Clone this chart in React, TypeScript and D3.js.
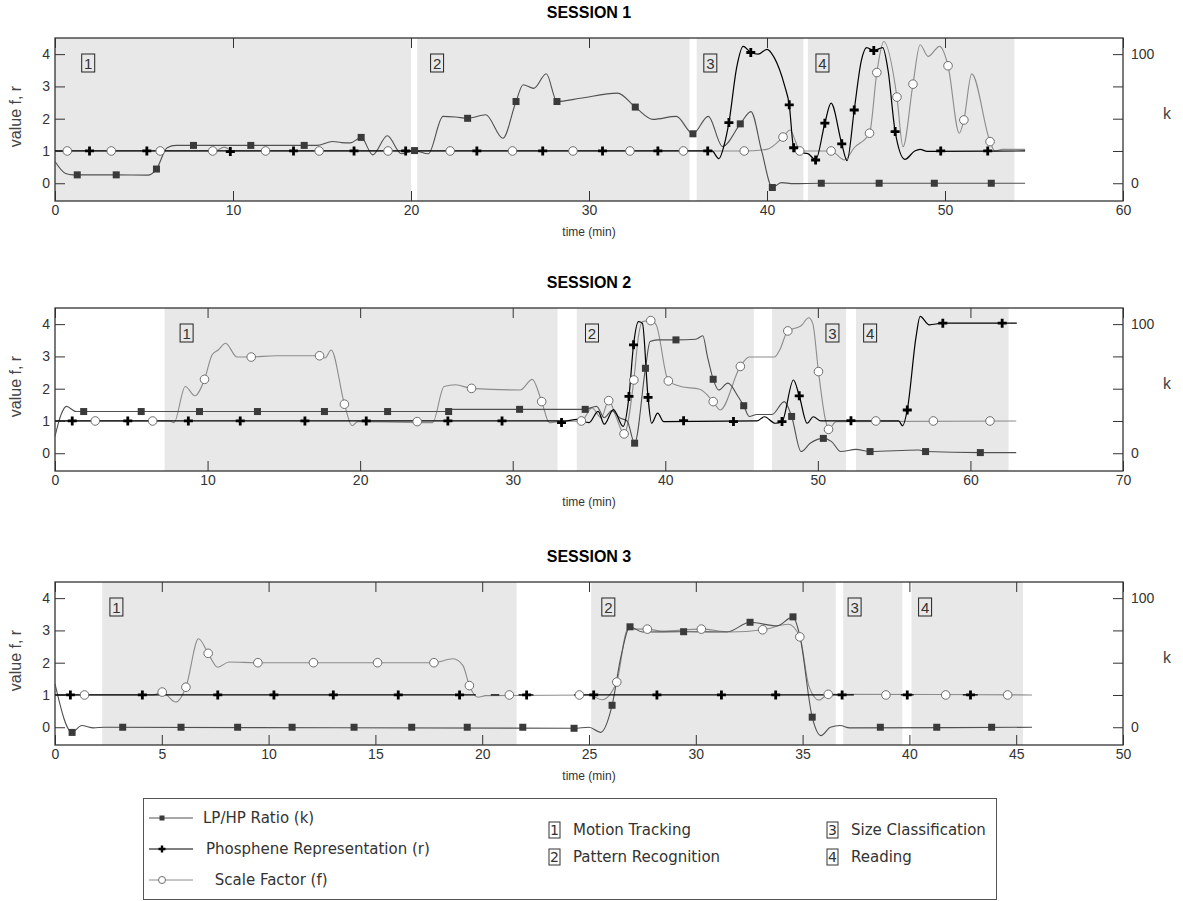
import React, { useRef, useEffect } from 'react';
import * as d3 from 'd3';

type P = [number, number | null];

// ---------- session 1 ----------
const s1Regions: [number, number][] = [[0, 20.0], [20.35, 35.65], [36.05, 42.05], [42.3, 53.9]];
const s1LabelAt = [1.5, 21.1, 36.45, 42.75];
const s1K: P[] = [
  [0, 16.8], [0.6, 7.5], [1.0, 6.5], [3.4, 6.5], [5.2, 6.3], [5.7, 11], [6.3, 27.5], [6.8, 29.3], [10, 29.3],
  [14.7, 29.3], [15.6, 32.3], [16.1, 31.5], [16.6, 31.3], [17.2, 35.5], [17.85, 22], [18.67, 36.8], [19.46, 22.8],
  [20.2, 25.3], [20.97, 22.8], [21.8, 51.8], [22.5, 51.3], [23.2, 50.3], [24.2, 53], [25.16, 34.8], [25.9, 63.3],
  [26.3, 76.3], [26.9, 73.5], [27.6, 84.8], [28.2, 63.3], [29.5, 65.8], [31.6, 69.8], [32.6, 59], [33.6, 49.5],
  [34.9, 51.8], [35.84, 38.3], [36.7, 51.8], [37.5, 28.5], [38.5, 46], [39.1, 55.5], [39.7, 25], [40.3, -3.3],
  [40.8, 0.5], [41.5, -0.3], [43, 0], [54.5, 0],
];
const s1KMarks: [number, number][] = [
  [1.25, 6.5], [3.44, 6.5], [5.7, 11], [7.78, 29.3], [11.0, 29.3], [14.0, 29.3], [17.2, 35.5], [20.2, 25.3],
  [23.18, 50.3], [25.9, 63.3], [28.2, 63.3], [32.6, 59], [35.84, 38.3], [38.5, 46], [40.3, -3.3], [43.05, 0],
  [46.3, 0], [49.4, 0], [52.6, 0],
];
const s1R: P[] = [
  [0, 1], [36.9, 1], [37.3, 0.76], [37.6, 1.2], [37.86, 1.88], [38.3, 3.6], [38.66, 4.24], [39.1, 4.05], [39.5, 4.0],
  [40.0, 4.15], [40.4, 3.9], [41.0, 3.0], [41.25, 2.43], [41.5, 1.1], [41.9, 0.95], [42.3, 0.92], [42.73, 0.72],
  [43.25, 1.86], [43.6, 2.48], [44.2, 1.22], [44.5, 0.7], [44.9, 2.27], [45.3, 3.8], [45.6, 4.2], [46.0, 4.11],
  [46.5, 4.2], [46.8, 3.5], [47.2, 1.6], [47.75, 0.74], [48.3, 1.0], [48.6, 1.05], [49, 0.99], [54.5, 1],
];
const s1RMarks: [number, number][] = [
  [1.94, 1], [5.16, 1], [9.85, 0.98], [13.4, 1], [16.8, 1], [19.7, 1], [23.7, 1], [27.4, 1], [30.76, 1], [33.87, 1],
  [36.67, 1], [37.86, 1.88], [39.09, 4.05], [41.25, 2.43], [41.5, 1.1], [42.73, 0.72], [43.25, 1.86], [44.2, 1.22],
  [44.9, 2.27], [46.0, 4.11], [47.2, 1.6], [49.76, 1], [52.4, 1],
];
const s1F: P[] = [
  [0, 1], [9.0, 1], [9.5, 1.12], [10.0, 1.0], [38.72, 1], [40.0, 1.05], [40.9, 1.43], [41.3, 1.65], [41.6, 1.3],
  [41.84, 1.0], [43.6, 1.0], [44.35, 0.72], [44.9, 1.1], [45.76, 1.55], [46.17, 3.43], [46.56, 4.39], [47.3, 2.67],
  [47.64, 1.13], [48.2, 3.07], [48.6, 4.29], [49.05, 3.93], [49.7, 4.24], [50.17, 3.64], [50.8, 1.55], [51.06, 1.96],
  [51.5, 3.39], [52.53, 1.29], [52.8, 1.0], [53.2, 1.05], [54.5, 1.05],
];
const s1FMarks: [number, number][] = [
  [0.69, 1], [3.16, 1], [5.91, 1], [8.86, 1], [11.83, 1], [14.84, 1], [18.71, 1], [22.2, 1], [25.7, 1], [29.1, 1],
  [32.3, 1], [35.3, 1], [38.72, 1], [40.9, 1.43], [41.84, 1.0], [43.6, 1.0], [45.76, 1.55], [46.17, 3.43],
  [47.3, 2.67], [48.2, 3.07], [50.17, 3.64], [51.06, 1.96], [52.53, 1.29],
];

// ---------- session 2 ----------
const s2Regions: [number, number][] = [[7.18, 32.94], [34.2, 45.8], [47.0, 51.85], [52.5, 62.5]];
const s2LabelAt = [8.2, 34.77, 50.53, 53.0];
const s2K: P[] = [
  [0, 13], [0.4, 30], [0.75, 36.3], [1.38, 32.3], [25.8, 32.3], [26.0, 34], [34.7, 34], [35.5, 36.3], [36.0, 27.5],
  [36.5, 33], [37.0, 27.5], [37.5, 25], [37.99, 7.8], [38.7, 65.8], [39.0, 86.5], [39.5, 87.8], [40.7, 87.8],
  [42.0, 88.3], [42.46, 91], [42.76, 75], [43.14, 57.3], [43.5, 49], [44.1, 54.3], [44.77, 44], [45.14, 36.8],
  [45.5, 28.5], [46.0, 30], [47.0, 30], [47.8, 40], [48.28, 28.5], [48.9, 1.3], [49.5, 7.8], [50.36, 11.5],
  [50.9, 9], [51.5, 1.3], [52.5, 3], [53.42, 1.3], [56.6, 2.5], [57.06, 1.3], [60.65, 0.5], [63, 0.5],
];
const s2KMarks: [number, number][] = [
  [1.88, 32.3], [5.65, 32.3], [9.47, 32.3], [13.27, 32.3], [17.66, 32.3], [21.8, 32.3], [25.8, 32.3], [30.45, 34],
  [34.75, 34], [37.99, 7.8], [38.7, 65.8], [40.7, 87.8], [43.14, 57.3], [45.14, 36.8], [48.28, 28.5], [50.36, 11.5],
  [53.42, 1.3], [57.06, 1.3], [60.65, 0.5],
];
const s2R: P[] = [
  [0, 1], [33.5, 1], [34.2, 1.05], [35.0, 0.95], [35.6, 1.3], [36.0, 0.9], [36.6, 1.35], [37.24, 0.83],
  [37.62, 1.76], [37.92, 3.36], [38.24, 4.08], [38.5, 4.03], [38.87, 1.73], [39.1, 0.93], [39.5, 1.24], [39.9, 0.98],
  [46.0, 1.0], [46.5, 1.13], [47.2, 0.93], [47.65, 0.98], [48.4, 2.27], [48.78, 1.78], [49.3, 0.93], [49.7, 1.13],
  [50.2, 1.0], [55.3, 1.0], [55.55, 0.85], [55.86, 1.34], [56.44, 3.62], [56.7, 4.24], [57.3, 3.98], [58.19, 4.03],
  [63.04, 4.03],
];
const s2RMarks: [number, number][] = [
  [1.13, 1], [4.77, 1], [8.74, 1], [12.14, 1], [16.38, 1], [20.4, 1], [25.75, 1], [29.3, 1], [33.2, 0.95],
  [37.62, 1.76], [37.92, 3.36], [38.87, 1.73], [41.2, 1.01], [44.47, 0.98], [47.65, 0.98], [48.78, 1.78],
  [52.17, 1.01], [55.86, 1.34], [58.19, 4.03], [62.08, 4.03],
];
const s2F: P[] = [
  [0, 1], [7.5, 1], [7.8, 0.95], [8.54, 2.07], [9.17, 1.78], [9.8, 2.29], [10.3, 3.05], [10.7, 3.2], [11.18, 3.41],
  [11.93, 2.98], [12.86, 2.98], [14.45, 3.02], [17.34, 3.02], [17.7, 2.95], [18.1, 3.2], [18.97, 1.52],
  [19.47, 0.85], [19.85, 0.98], [24.75, 0.95], [25.5, 2.07], [26.26, 2.12], [27.3, 2.01], [30.5, 1.96],
  [31.28, 2.29], [31.9, 1.6], [32.4, 0.95], [33.0, 0.98], [34.5, 1.0], [35.2, 1.4], [35.8, 1.1], [36.29, 1.63],
  [36.8, 1.1], [37.3, 0.6], [37.94, 2.27], [38.24, 3.62], [38.5, 4.08], [39.05, 4.11], [39.4, 3.98], [40.2, 2.24],
  [41, 2.07], [42.26, 1.98], [43.14, 1.6], [43.6, 1.34], [44.92, 2.69], [45.5, 2.98], [47.15, 2.98], [47.5, 3.2],
  [48.03, 3.79], [48.5, 3.87], [48.9, 3.95], [49.4, 4.2], [49.66, 4.03], [50.04, 2.53], [50.5, 1.03], [50.7, 0.74],
  [51.2, 0.98], [63, 1],
];
const s2FMarks: [number, number][] = [
  [2.64, 1], [6.4, 1], [9.8, 2.29], [12.86, 2.98], [17.34, 3.02], [18.97, 1.52], [23.74, 0.98], [27.3, 2.01],
  [31.9, 1.6], [34.5, 1.0], [36.29, 1.63], [37.3, 0.6], [37.94, 2.27], [39.05, 4.11], [40.2, 2.24], [43.14, 1.6],
  [44.92, 2.69], [48.03, 3.79], [50.04, 2.53], [50.7, 0.74], [53.8, 1], [57.57, 1], [61.28, 1],
];

// ---------- session 3 ----------
const s3Regions: [number, number][] = [[2.21, 21.61], [25.1, 36.55], [36.9, 39.67], [40.1, 45.32]];
const s3LabelAt = [2.57, 25.6, 37.13, 40.43];
const s3K: P[] = [
  [0, 33.5], [0.8, -4], [1.25, 1.3], [1.8, -0.5], [2.3, 0], [24.3, -0.8], [25.0, 0], [25.54, -4], [26.08, 17],
  [26.5, 55], [26.92, 77.8], [27.5, 73.8], [29.43, 74], [31.46, 73.8], [32.54, 81.3], [33.8, 78.5], [34.55, 85.5],
  [34.87, 70.8], [35.45, 7.8], [35.86, -6.5], [36.3, 0], [36.76, 1.3], [37.2, -0.5], [45.74, 0],
];
const s3KMarks: [number, number][] = [
  [0.8, -4], [3.17, 0], [5.9, 0], [8.55, 0], [11.1, 0], [14.0, 0], [16.7, 0], [19.3, 0], [21.9, 0], [24.3, -0.8],
  [26.08, 17], [26.92, 77.8], [29.43, 74], [32.54, 81.3], [34.55, 85.5], [35.45, 7.8], [38.64, 0], [41.28, 0],
  [43.85, 0],
];
const s3R: P[] = [
  [0, 1], [19.7, 1], [19.7, null], [20.4, 1], [20.8, 1], [20.8, null], [21.7, 1], [22.4, 1], [22.4, null],
  [24.3, 1], [37.4, 1], [37.4, null], [39.6, 1], [40.2, 1], [40.2, null], [42.5, 1], [43.2, 1],
];
const s3RMarks: [number, number][] = [
  [0.72, 1], [4.09, 1], [7.62, 1], [10.25, 1], [13.03, 1], [16.07, 1], [18.94, 1], [22.08, 1], [25.22, 1],
  [28.18, 1], [31.2, 1], [33.74, 1], [36.85, 1], [39.9, 1], [42.86, 1],
];
const s3F: P[] = [
  [0, 1], [4.6, 1], [5.02, 1.09], [5.65, 0.78], [6.13, 1.24], [6.72, 2.74], [7.17, 2.29], [7.62, 1.86],
  [8.15, 2.02], [9.5, 2.0], [17.74, 2.0], [18.64, 2.12], [19.1, 1.91], [19.4, 1.29], [19.8, 0.93], [20.16, 0.98],
  [25.0, 1.0], [25.6, 0.85], [26.3, 1.4], [26.8, 3.04], [27.73, 3.04], [28.4, 2.98], [30.26, 3.04], [31.6, 2.95],
  [33.13, 3.02], [34.33, 3.19], [34.87, 2.8], [35.3, 1.26], [35.77, 0.84], [36.2, 1.02], [45.74, 1],
];
const s3FMarks: [number, number][] = [
  [1.38, 1], [5.02, 1.09], [6.13, 1.24], [7.17, 2.29], [9.5, 2], [12.1, 2], [15.1, 2], [17.74, 2], [19.4, 1.29],
  [21.27, 1], [24.55, 1], [26.3, 1.4], [27.73, 3.04], [30.26, 3.04], [33.13, 3.02], [34.87, 2.8], [36.2, 1.02],
  [38.9, 1], [41.7, 1], [44.6, 1],
];

const sessionTitles = ['SESSION 1', 'SESSION 2', 'SESSION 3'];
const sessionMax = [60, 70, 50];
const sessionStep = [10, 10, 5];
const regionNames = ['Motion Tracking', 'Pattern Recognition', 'Size Classification', 'Reading'];
const seriesNames = ['LP/HP Ratio (k)', 'Phosphene Representation (r)', ' Scale Factor (f)'];

const sessions = [
  { regions: s1Regions, labels: s1LabelAt, k: s1K, kM: s1KMarks, r: s1R, rM: s1RMarks, f: s1F, fM: s1FMarks },
  { regions: s2Regions, labels: s2LabelAt, k: s2K, kM: s2KMarks, r: s2R, rM: s2RMarks, f: s2F, fM: s2FMarks },
  { regions: s3Regions, labels: s3LabelAt, k: s3K, kM: s3KMarks, r: s3R, rM: s3RMarks, f: s3F, fM: s3FMarks },
];

const W = 1183;
const H = 901;
const left = 55;
const right = 1123;
const panelTops = [38, 308, 582];
const panelH = 163;
const yDomain = [-0.55, 4.5];
const tickFont = '"Liberation Sans Narrow", "Liberation Sans", Arial, sans-serif';
const textFont = '"Liberation Sans", Arial, sans-serif';
const legendFont = '"DejaVu Sans", Verdana, sans-serif';

const F_LINE = '#8c8c8c';
const K_LINE = '#505050';

function drawSquare(g, x, y, s) {
  g.append('rect').attr('x', x - s / 2).attr('y', y - s / 2).attr('width', s).attr('height', s).attr('fill', '#3a3a3a');
}
function drawPlus(g, x, y, s, w) {
  g.append('path').attr('d', `M${x - s},${y}H${x + s}M${x},${y - s}V${y + s}`)
    .attr('stroke', '#000').attr('stroke-width', w).attr('fill', 'none');
}
function drawCircle(g, x, y, r) {
  g.append('circle').attr('cx', x).attr('cy', y).attr('r', r).attr('fill', '#fff').attr('stroke', '#6e6e6e').attr('stroke-width', 1);
}

const App = () => {
  const svgRef = useRef(null);

  useEffect(() => {
    const svg = d3.select(svgRef.current);
    svg.selectAll('*').remove();

    sessions.forEach((s, si) => {
      const top = panelTops[si];
      const bottom = top + panelH;
      const x = d3.scaleLinear().domain([0, sessionMax[si]]).range([left, right]);
      const y = d3.scaleLinear().domain(yDomain).range([bottom, top]);
      const yk = d3.scaleLinear().domain([yDomain[0] * 25, yDomain[1] * 25]).range([bottom, top]);
      const g = svg.append('g');

      // activity regions
      g.selectAll('rect.region').data(s.regions).enter().append('rect')
        .attr('class', 'region')
        .attr('x', d => x(d[0]))
        .attr('y', top)
        .attr('width', d => x(d[1]) - x(d[0]))
        .attr('height', panelH)
        .attr('fill', '#e8e8e8');

      // region number boxes
      s.labels.forEach((t, i) => {
        const bx = x(t);
        const by = top + 16;
        g.append('rect').attr('x', bx).attr('y', by).attr('width', 13).attr('height', 18)
          .attr('fill', 'none').attr('stroke', '#222').attr('stroke-width', 1);
        g.append('text').attr('x', bx + 6.5).attr('y', by + 14.5).attr('text-anchor', 'middle')
          .attr('font-family', textFont).attr('font-size', 15).attr('fill', '#333').text(String(i + 1));
      });

      // axes
      const xTicks = d3.range(0, sessionMax[si] + 0.01, sessionStep[si]);
      const axB = g.append('g').attr('transform', `translate(0,${bottom})`)
        .call(d3.axisBottom(x).tickValues(xTicks).tickSizeInner(-10).tickSizeOuter(0).tickPadding(4).tickFormat(d3.format('d')));
      const axT = g.append('g').attr('transform', `translate(0,${top})`)
        .call(d3.axisTop(x).tickValues(xTicks).tickSizeInner(-10).tickSizeOuter(0).tickFormat(() => ''));
      const axL = g.append('g').attr('transform', `translate(${left},0)`)
        .call(d3.axisLeft(y).tickValues([0, 1, 2, 3, 4]).tickSizeInner(-10).tickSizeOuter(0).tickPadding(5).tickFormat(d3.format('d')));
      const axR = g.append('g').attr('transform', `translate(${right},0)`)
        .call(d3.axisRight(yk).tickValues([0, 25, 50, 75, 100]).tickSizeInner(-10).tickSizeOuter(0).tickPadding(8)
          .tickFormat(d => (d === 0 || d === 100 ? String(d) : '')));
      [axB, axT, axL, axR].forEach(a => {
        a.select('.domain').remove();
        a.selectAll('line').attr('stroke', '#333');
        a.selectAll('text').attr('font-family', tickFont).attr('font-size', 14).attr('fill', '#333');
      });

      // frame
      g.append('rect').attr('x', left).attr('y', top).attr('width', right - left).attr('height', panelH)
        .attr('fill', 'none').attr('stroke', '#333').attr('stroke-width', 1.3);

      // lines
      const lineF = d3.line<P>().defined(d => d[1] !== null).x(d => x(d[0])).y(d => y(d[1] as number))
        .curve(d3.curveMonotoneX);
      const lineK = d3.line<P>().defined(d => d[1] !== null).x(d => x(d[0])).y(d => yk(d[1] as number))
        .curve(d3.curveMonotoneX);

      g.append('path').datum(s.f).attr('d', lineF).attr('fill', 'none').attr('stroke', F_LINE).attr('stroke-width', 1.1);
      g.append('path').datum(s.k).attr('d', lineK).attr('fill', 'none').attr('stroke', K_LINE).attr('stroke-width', 1.1);
      g.append('path').datum(s.r).attr('d', lineF).attr('fill', 'none').attr('stroke', '#000').attr('stroke-width', 1.2);

      s.fM.forEach(d => drawCircle(g, x(d[0]), y(d[1]), 4.3));
      s.kM.forEach(d => drawSquare(g, x(d[0]), yk(d[1]), 7));
      s.rM.forEach(d => drawPlus(g, x(d[0]), y(d[1]), 4.5, 2.8));

      // titles and axis labels
      g.append('text').attr('x', (left + right) / 2).attr('y', top - 20).attr('text-anchor', 'middle')
        .attr('font-family', textFont).attr('font-size', 16).attr('font-weight', 'bold').attr('fill', '#000')
        .text(sessionTitles[si]);
      g.append('text').attr('x', (left + right) / 2).attr('y', bottom + 35).attr('text-anchor', 'middle')
        .attr('font-family', textFont).attr('font-size', 12).attr('fill', '#333').text('time (min)');
      g.append('text').attr('transform', `translate(21,${top + panelH / 2 - 3}) rotate(-90)`).attr('text-anchor', 'middle')
        .attr('font-family', textFont).attr('font-size', 16).attr('fill', '#444').text('value f, r');
      g.append('text').attr('x', 1163).attr('y', top + panelH / 2 - 1).attr('font-family', textFont)
        .attr('font-size', 16).attr('fill', '#444').text('k');
    });

    // legend
    const lg = svg.append('g');
    lg.append('rect').attr('x', 143.5).attr('y', 798.5).attr('width', 853).attr('height', 101)
      .attr('fill', '#fff').attr('stroke', '#555').attr('stroke-width', 1);
    const rowsY = [818, 849, 880];
    const textX = [203, 206, 210];
    rowsY.forEach((ry, i) => {
      lg.append('line').attr('x1', 149).attr('x2', 193).attr('y1', ry).attr('y2', ry)
        .attr('stroke', i === 1 ? '#000' : i === 0 ? K_LINE : F_LINE).attr('stroke-width', 1);
      if (i === 0) drawSquare(lg, 162, ry, 5);
      if (i === 1) drawPlus(lg, 162, ry, 3.5, 2.4);
      if (i === 2) drawCircle(lg, 162, ry, 3.5);
      lg.append('text').attr('x', textX[i]).attr('y', ry + 5).attr('font-family', legendFont).attr('font-size', 15)
        .attr('fill', '#333').attr('xml:space', 'preserve').text(seriesNames[i]);
    });
    const regionCols = [549, 827];
    const regionRows = [830, 857];
    regionNames.forEach((name, i) => {
      const cx = regionCols[Math.floor(i / 2)];
      const cy = regionRows[i % 2];
      lg.append('rect').attr('x', cx).attr('y', cy - 8).attr('width', 11).attr('height', 16)
        .attr('fill', 'none').attr('stroke', '#333');
      lg.append('text').attr('x', cx + 5.5).attr('y', cy + 5).attr('text-anchor', 'middle').attr('font-family', legendFont)
        .attr('font-size', 14).attr('fill', '#333').text(String(i + 1));
      lg.append('text').attr('x', cx + 24).attr('y', cy + 5).attr('font-family', legendFont).attr('font-size', 15)
        .attr('fill', '#333').text(name);
    });
  }, []);

  return (
    <svg ref={svgRef} width={W} height={H} style={{ position: 'absolute', left: 0, top: 0, background: '#fff' }} />
  );
};

export default App;
